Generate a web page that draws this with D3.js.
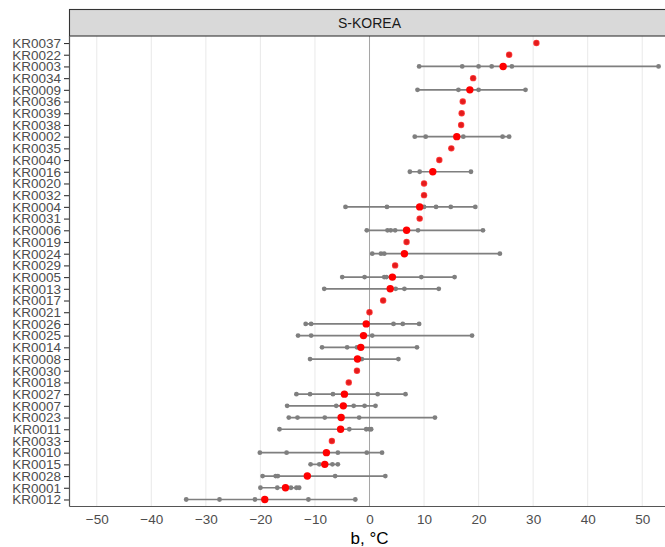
<!DOCTYPE html>
<html>
<head>
<meta charset="utf-8">
<script src="https://cdn.jsdelivr.net/npm/d3@7"></script>
<style>
  html, body { margin: 0; padding: 0; background: #fff; }
  svg { display: block; font-family: "Liberation Sans", Arial, sans-serif; }
</style>
</head>
<body>
<svg id="chart" width="665" height="547"></svg>
<script>
// Station codes, top to bottom
const sites = ["KR0037","KR0022","KR0003","KR0034","KR0009","KR0036","KR0039","KR0038",
  "KR0002","KR0035","KR0040","KR0016","KR0020","KR0032","KR0004","KR0031","KR0006",
  "KR0019","KR0024","KR0029","KR0005","KR0013","KR0017","KR0021","KR0026","KR0025",
  "KR0014","KR0008","KR0030","KR0018","KR0027","KR0007","KR0023","KR0011","KR0033",
  "KR0010","KR0015","KR0028","KR0001","KR0012"];

// Station estimate of b (°C), red points
const centre = [30.6, 25.6, 24.5, 19.0, 18.4, 17.1, 16.9, 16.8,
  16.0, 15.0, 12.8, 11.6, 10.0, 10.0, 9.2, 9.2, 6.8,
  6.8, 6.4, 4.7, 4.2, 3.8, 2.5, 0.0, -0.6, -1.1,
  -1.6, -2.2, -2.3, -3.8, -4.6, -4.8, -5.2, -5.3, -6.9,
  -7.9, -8.2, -11.4, -15.4, -19.2];

// Individual estimates per station, grey points joined by a line
const samples = [
  [30.6],
  [25.6],
  [9.1, 17.0, 20.0, 22.4, 26.1, 53.0],
  [19.0],
  [8.8, 16.3, 20.0, 28.6],
  [17.1],
  [16.9],
  [16.8],
  [8.3, 10.3, 17.2, 24.4, 25.6],
  [15.0],
  [12.8],
  [7.4, 9.2, 18.6],
  [10.0],
  [10.0],
  [-4.4, 3.2, 10.0, 12.2, 14.9, 19.4],
  [9.2],
  [-0.5, 3.3, 3.9, 4.7, 8.9, 20.8],
  [6.8],
  [0.5, 2.1, 2.7, 23.9],
  [4.7],
  [-5.0, -0.9, 2.7, 3.1, 9.5, 15.6],
  [-8.3, 4.8, 6.4, 12.7],
  [2.5],
  [0.0],
  [-11.7, -10.7, 4.4, 6.1, 9.1],
  [-13.1, -10.7, 0.5, 18.8],
  [-8.7, -4.1, -2.3, 8.7],
  [-10.9, -1.4, 5.3],
  [-2.3],
  [-3.8],
  [-13.4, -10.9, -6.7, 1.5, 6.6],
  [-15.1, -6.1, -2.9, -0.9, 1.1],
  [-14.8, -13.2, -8.2, -1.9, 12.0],
  [-16.5, -3.7, -0.6, 0.0, 0.3],
  [-6.9],
  [-20.1, -15.2, -5.8, -0.5, 2.3],
  [-10.8, -9.2, -6.8, -5.8],
  [-19.6, -17.2, -16.8, -6.3, 2.9],
  [-20.0, -16.9, -14.4, -13.4, -12.9],
  [-33.6, -27.5, -21.0, -11.2, -2.6]
];

const xTicks = [-50, -40, -30, -20, -10, 0, 10, 20, 30, 40, 50];
const panelTitle = "S-KOREA";
const xTitle = "b, °C";

const svg = d3.select("#chart");
const panel = { left: 69.5, right: 669.5, top: 36, bottom: 506.5 };
const strip = { top: 9.5, bottom: 36 };

const x = d3.scaleLinear().domain([-55, 55]).range([panel.left, panel.right]);
const y = d3.scalePoint().domain(sites).range([panel.top, panel.bottom]).padding(0.6);

// vertical grid
svg.append("g").selectAll("line").data(xTicks).join("line")
  .attr("x1", d => x(d)).attr("x2", d => x(d))
  .attr("y1", panel.top).attr("y2", panel.bottom)
  .attr("stroke", "#ebebeb").attr("stroke-width", 1.1);

// zero reference
svg.append("line")
  .attr("x1", x(0)).attr("x2", x(0))
  .attr("y1", panel.top).attr("y2", panel.bottom)
  .attr("stroke", "#a6a6a6").attr("stroke-width", 1);

const rows = sites.map((s, i) => ({ site: s, c: centre[i], v: samples[i] }));

// spread of individual estimates
svg.append("g").selectAll("line").data(rows.filter(r => r.v.length > 1)).join("line")
  .attr("x1", d => x(d3.min(d.v))).attr("x2", d => x(d3.max(d.v)))
  .attr("y1", d => y(d.site)).attr("y2", d => y(d.site))
  .attr("stroke", "#7f7f7f").attr("stroke-width", 1.7);

svg.append("g").selectAll("circle")
  .data(rows.flatMap(r => r.v.map(v => ({ site: r.site, v }))))
  .join("circle")
  .attr("cx", d => x(d.v)).attr("cy", d => y(d.site)).attr("r", 2.4)
  .attr("fill", "#7f7f7f");

// station estimate
svg.append("g").selectAll("circle").data(rows).join("circle")
  .attr("cx", d => x(d.c)).attr("cy", d => y(d.site))
  .attr("r", d => d.v.length > 1 ? 3.7 : 3.2)
  .attr("fill", "#ff0000").attr("fill-opacity", d => d.v.length > 1 ? 1 : 0.78);

// facet strip
svg.append("rect")
  .attr("x", panel.left).attr("y", strip.top)
  .attr("width", panel.right - panel.left).attr("height", strip.bottom - strip.top)
  .attr("fill", "#d9d9d9").attr("stroke", "#333").attr("stroke-width", 1.1);
svg.append("text")
  .attr("x", (panel.left + panel.right) / 2).attr("y", (strip.top + strip.bottom) / 2 + 5)
  .attr("text-anchor", "middle").attr("font-size", 14).attr("fill", "#1a1a1a")
  .text(panelTitle);

// y axis
const yAxis = svg.append("g").attr("transform", `translate(${panel.left},0)`)
  .call(d3.axisLeft(y).tickSize(5.5).tickPadding(3));
yAxis.select(".domain").remove();
yAxis.selectAll(".tick line").attr("stroke", "#333").attr("stroke-width", 1.1);
yAxis.selectAll(".tick text").attr("font-size", 13.5).attr("fill", "#4d4d4d")
  .attr("font-family", "Liberation Sans, Arial, sans-serif");

// x axis
const xAxis = svg.append("g").attr("transform", `translate(0,${panel.bottom})`)
  .call(d3.axisBottom(x).tickValues(xTicks).tickSize(0).tickPadding(8));
xAxis.select(".domain").remove();
xAxis.selectAll(".tick text").attr("font-size", 13.5).attr("fill", "#4d4d4d")
  .attr("font-family", "Liberation Sans, Arial, sans-serif");

// axis lines
svg.append("line")
  .attr("x1", panel.left).attr("x2", panel.left)
  .attr("y1", panel.top).attr("y2", panel.bottom)
  .attr("stroke", "#555").attr("stroke-width", 1.2);
svg.append("line")
  .attr("x1", panel.left).attr("x2", panel.right)
  .attr("y1", panel.bottom).attr("y2", panel.bottom)
  .attr("stroke", "#555").attr("stroke-width", 1.2);

svg.append("text")
  .attr("x", x(0)).attr("y", 544)
  .attr("text-anchor", "middle").attr("font-size", 17).attr("fill", "#000")
  .text(xTitle);
</script>
</body>
</html>
